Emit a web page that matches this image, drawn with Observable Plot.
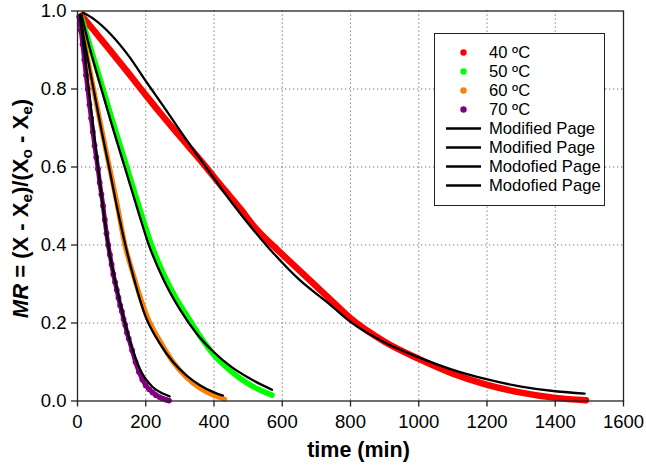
<!DOCTYPE html>
<html>
<head>
<meta charset="utf-8">
<script src="https://cdn.jsdelivr.net/npm/d3@7"></script>
<script src="https://cdn.jsdelivr.net/npm/@observablehq/plot@0.6"></script>
<style>
  html, body { margin: 0; padding: 0; background: #fff; }
  #wrap { position: relative; width: 646px; height: 471px; font-family: "Liberation Sans", Arial, sans-serif; }
  #legend { position: absolute; left: 434px; top: 33px; width: 171px; height: 173px; background: #fff; border: 1.3px solid #222; box-sizing: border-box; padding-top: 9px; }
  .row { position: relative; height: 19px; font-size: 16.6px; color: #000; }
  .row .sw { position: absolute; left: 0; top: 0; width: 54px; height: 19px; }
  .row .lab { position: absolute; left: 54px; top: 0; line-height: 19px; white-space: nowrap; }
</style>
</head>
<body>
<div id="wrap"><div id="legend"></div></div>
<script>
// ---- data ----
const seriesNames = ["40 ºC", "50 ºC", "60 ºC", "70 ºC"];
const modelNames = ["Modified Page", "Modified Page", "Modofied Page", "Modofied Page"];
const seriesColors = ["#ff0000", "#00ff00", "#ff8000", "#800080"];
const xTicks = [0, 200, 400, 600, 800, 1000, 1200, 1400, 1600];
const yTicks = [0.0, 0.2, 0.4, 0.6, 0.8, 1.0];

// experimental MR, 40 °C
const exp40t  = [12, 50, 90, 150, 197, 240, 285, 330, 367, 420, 480, 519, 583, 650, 739, 800, 900, 1000, 1100, 1198, 1296, 1400, 1490];
const exp40mr = [0.988, 0.948, 0.905, 0.840, 0.788, 0.741, 0.694, 0.648, 0.610, 0.553, 0.490, 0.446, 0.390, 0.335, 0.262, 0.212, 0.152, 0.108, 0.070, 0.042, 0.022, 0.008, 0.002];
// experimental MR, 50 °C
const exp50t  = [12, 30, 60, 100, 140, 180, 217, 250, 290, 329, 360, 400, 450, 495, 530, 570];
const exp50mr = [0.984, 0.930, 0.843, 0.726, 0.613, 0.500, 0.400, 0.330, 0.262, 0.208, 0.165, 0.118, 0.076, 0.047, 0.030, 0.015];
// experimental MR, 60 °C
const exp60t  = [7, 20, 47, 70, 90, 115, 139, 165, 187, 205, 241, 280, 319, 360, 400, 431];
const exp60mr = [0.980, 0.920, 0.800, 0.700, 0.615, 0.510, 0.400, 0.320, 0.258, 0.215, 0.155, 0.100, 0.061, 0.032, 0.014, 0.005];
// experimental MR, 70 °C
const exp70t  = [5, 10, 15, 20, 25, 30, 35, 40, 45, 50, 55, 60, 65, 70, 75, 80, 85, 90, 95, 100, 105, 110, 115, 120, 125, 130, 135, 140, 145, 150, 160, 170, 180, 190, 200, 210, 220, 230, 240, 250, 260, 268];
const exp70mr = [0.985, 0.950, 0.915, 0.875, 0.835, 0.800, 0.760, 0.725, 0.690, 0.655, 0.625, 0.595, 0.560, 0.530, 0.500, 0.465, 0.430, 0.400, 0.375, 0.350, 0.325, 0.305, 0.285, 0.265, 0.245, 0.230, 0.210, 0.195, 0.175, 0.160, 0.130, 0.100, 0.075, 0.055, 0.040, 0.030, 0.022, 0.015, 0.010, 0.006, 0.003, 0.001];

// Modified Page model curves
const fit40t  = [16, 50, 100, 150, 202, 250, 300, 368, 450, 563, 650, 739, 800, 900, 1000, 1100, 1198, 1300, 1400, 1486];
const fit40mr = [0.996, 0.978, 0.938, 0.885, 0.818, 0.758, 0.694, 0.610, 0.511, 0.390, 0.311, 0.248, 0.203, 0.150, 0.112, 0.080, 0.056, 0.037, 0.025, 0.019];
const fit50t  = [12, 30, 60, 100, 140, 180, 207, 250, 300, 350, 400, 450, 500, 570];
const fit50mr = [0.990, 0.925, 0.830, 0.710, 0.595, 0.480, 0.405, 0.315, 0.235, 0.172, 0.125, 0.088, 0.060, 0.029];
const fit60t  = [7, 20, 47, 70, 90, 115, 139, 165, 197, 241, 280, 319, 360, 400, 426];
const fit60mr = [0.990, 0.925, 0.800, 0.695, 0.610, 0.500, 0.405, 0.315, 0.222, 0.148, 0.100, 0.066, 0.040, 0.022, 0.014];
const fit70t  = [7, 30, 60, 90, 124, 150, 185, 220, 250, 270];
const fit70mr = [0.990, 0.820, 0.600, 0.400, 0.255, 0.165, 0.078, 0.036, 0.019, 0.012];

// ---- build tables ----
const toRows = (ts, ms) => ts.map((t, i) => ({t, mr: ms[i]}));
const expData = [toRows(exp40t, exp40mr), toRows(exp50t, exp50mr), toRows(exp60t, exp60mr), toRows(exp70t, exp70mr)];
const fitData = [toRows(fit40t, fit40mr), toRows(fit50t, fit50mr), toRows(fit60t, fit60mr), toRows(fit70t, fit70mr)];
const expWidths = [6.5, 5.5, 5, 4.5];

const W = 646, H = 471, mL = 77, mR = 23, mT = 10.5, mB = 70.5;

const marks = [
  Plot.gridX(xTicks.slice(1, -1), {stroke: "#777", strokeOpacity: 1, strokeDasharray: "1.3,2.7", strokeWidth: 1.1}),
  Plot.gridY(yTicks.slice(1, -1), {stroke: "#777", strokeOpacity: 1, strokeDasharray: "1.3,2.7", strokeWidth: 1.1}),
];
expData.forEach((d, i) => {
  marks.push(Plot.line(d, {x: "t", y: "mr", stroke: seriesColors[i], strokeWidth: expWidths[i], curve: "monotone-x", strokeLinecap: "round"}));
});
marks.push(Plot.dot(expData[3], {x: "t", y: "mr", fill: seriesColors[3], r: 2.9}));
fitData.forEach((d) => {
  marks.push(Plot.line(d, {x: "t", y: "mr", stroke: "#000", strokeWidth: 2.3, curve: "monotone-x"}));
});
marks.push(
  Plot.frame({stroke: "#222", strokeWidth: 1.3}),
  Plot.axisX(xTicks, {tickSize: 6, tickPadding: 8, tickFormat: d => String(d), label: null, stroke: "#222", strokeWidth: 1.3, fontSize: 18.5}),
  Plot.axisY(yTicks, {tickSize: 6, tickPadding: 5, tickFormat: d3.format(".1f"), label: null, stroke: "#222", strokeWidth: 1.3, fontSize: 18.5}),
  Plot.text(["time (min)"], {frameAnchor: "bottom", dy: 56, dx: 8, text: d => d, fontWeight: "bold", fontSize: 21.5, fill: "#000"})
);

const svg = Plot.plot({
  width: W, height: H,
  marginLeft: mL, marginRight: mR, marginTop: mT, marginBottom: mB,
  x: {domain: [0, 1600]},
  y: {domain: [0, 1]},
  style: {fontFamily: "'Liberation Sans', Arial, sans-serif", fontSize: "18px", background: "#fff", color: "#000", overflow: "visible"},
  marks
});

// y-axis title with subscripts
const ytitle = d3.select(svg).append("text")
  .attr("transform", `translate(28,${(mT + H - mB) / 2 + 3}) rotate(-90)`)
  .attr("text-anchor", "middle")
  .attr("font-weight", "bold")
  .attr("font-size", 22)
  .attr("fill", "#000");
const parts = [
  ["MR", "italic", false], [" = (X - X", null, false], ["e", null, true], [")/(X", null, false],
  ["o", null, true], [" - X", null, false], ["e", null, true], [")", null, false]
];
parts.forEach(([s, style, sub]) => {
  const ts = ytitle.append("tspan").text(s);
  if (style) ts.attr("font-style", style);
  if (sub) ts.attr("font-size", 15.5).attr("baseline-shift", "-25%");
});

document.getElementById("wrap").prepend(svg);
svg.style.position = "absolute"; svg.style.left = "0"; svg.style.top = "0";

// legend
const legend = document.getElementById("legend");
const rows = [];
seriesNames.forEach((n, i) => rows.push({label: n, type: "dot", color: seriesColors[i]}));
modelNames.forEach((n) => rows.push({label: n, type: "line", color: "#000"}));
rows.forEach(r => {
  const row = document.createElement("div");
  row.className = "row";
  const sw = r.type === "dot"
    ? `<svg class="sw" width="54" height="19"><circle cx="28.5" cy="9.5" r="3.2" fill="${r.color}"/></svg>`
    : `<svg class="sw" width="54" height="19"><line x1="11" x2="46" y1="9.5" y2="9.5" stroke="${r.color}" stroke-width="2.6"/></svg>`;
  row.innerHTML = sw + `<span class="lab">${r.label}</span>`;
  legend.appendChild(row);
});
</script>
</body>
</html>
